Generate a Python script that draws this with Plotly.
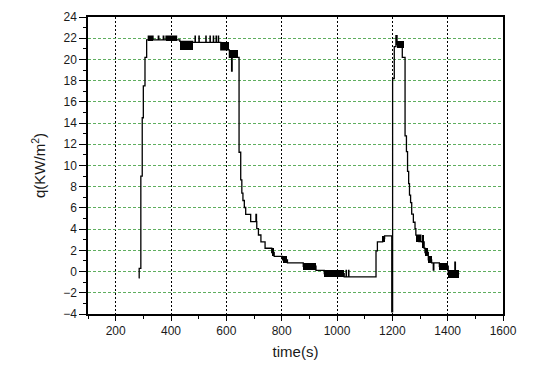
import plotly.graph_objects as go

# Heat flux trace (step line), time in s, q in KW/m^2
time_s = [283, 285, 291, 296, 300, 306, 312, 318, 335, 354, 356, 372, 374, 382, 420, 432,
          478, 487, 488, 501, 502, 526, 527, 541, 542, 553, 554, 563, 564, 571, 572,
          580, 611, 619, 621,
          646, 652, 656, 660, 665, 670, 688, 707, 709, 710, 716, 725, 740, 764, 773,
          803, 821, 878, 924, 954, 1026, 1033, 1034, 1042, 1043, 1141, 1146, 1165, 1172,
          1198, 1201, 1207, 1213, 1217, 1236, 1246, 1251, 1255, 1259, 1262, 1266, 1270,
          1276, 1282, 1285, 1296, 1300, 1303, 1306, 1315, 1318, 1330, 1342, 1348, 1350,
          1370, 1402, 1426, 1428, 1442]
q_vals = [-0.6, 0.3, 9.0, 14.5, 17.5, 20.2, 21.85, 22.2, 21.85, 22.2, 21.85, 22.2, 21.85, 22.2, 21.85, 21.7,
          21.6, 22.2, 21.6, 22.2, 21.6, 22.2, 21.6, 22.2, 21.6, 22.2, 21.6, 22.2, 21.6, 22.2, 21.6,
          20.9, 20.2, 18.9, 20.2,
          11.25, 8.65, 7.4, 6.7, 6.04, 5.4, 4.7, 5.4, 4.7, 4.04, 3.45, 2.8, 2.2, 1.8, 1.44,
          1.1, 0.82, 0.5, 0.12, -0.2, -0.5, 0.12, -0.5, 0.12, -0.5, 1.96, 2.8, 3.1, 3.37,
          -3.8, 18.2, 21.2, 22.25, 21.4, 20.2, 12.8, 11.3, 9.45, 8.3, 7.2, 6.5, 5.42,
          4.65, 4.04, 3.43, 2.82, 3.43, 2.82, 2.8, 2.2, 1.8, 1.1, 0.82, 0.15, 0.82,
          0.5, -0.2, 0.9, -0.2, -0.2]

# Fast toggling between two levels (appears as solid black blocks)
block_start = [318, 382, 432, 580, 611, 764, 803, 878, 954, 1165, 1217, 1285, 1306, 1318, 1330, 1370, 1402]
block_end   = [335, 420, 478, 611, 643, 773, 821, 924, 1026, 1172, 1242, 1296, 1315, 1330, 1342, 1402, 1442]
block_hi    = [22.2, 22.2, 21.7, 21.6, 20.9, 2.2, 1.44, 0.82, 0.12, 3.37, 21.7, 3.43, 3.43, 2.2, 1.44, 0.82, 0.15]
block_lo    = [21.7, 21.7, 20.9, 20.9, 20.2, 1.44, 0.82, 0.12, -0.5, 2.8, 21.1, 2.82, 2.2, 1.44, 0.82, 0.15, -0.56]

x_ticks = [200, 400, 600, 800, 1000, 1200, 1400, 1600]
y_ticks = [-4, -2, 0, 2, 4, 6, 8, 10, 12, 14, 16, 18, 20, 22, 24]

mids = [(a + b) / 2 for a, b in zip(block_start, block_end)]
widths = [b - a for a, b in zip(block_start, block_end)]
heights = [h - l for h, l in zip(block_hi, block_lo)]

fig = go.Figure()
fig.add_trace(go.Bar(x=mids, y=heights, base=block_lo, width=widths,
                     marker=dict(color="black", line=dict(width=0)), showlegend=False,
                     hoverinfo="skip"))
fig.add_trace(go.Scatter(x=time_s, y=q_vals, mode="lines", line=dict(color="black", width=1.3, shape="hv"),
                         showlegend=False))

font_family = "Liberation Sans, Arial, sans-serif"
fig.update_layout(
    width=533, height=370,
    margin=dict(l=88, r=30, t=10, b=56),
    paper_bgcolor="white", plot_bgcolor="white",
    barmode="overlay", bargap=0,
    font=dict(family=font_family, size=12, color="#1a1a1a"),
)
fig.update_xaxes(
    range=[100, 1600], tickvals=x_ticks, ticks="outside", ticklen=5, tickwidth=1, tickcolor="black",
    showline=True, linecolor="black", linewidth=1.5, mirror=True,
    showgrid=True, gridcolor="black", gridwidth=1, griddash="2px,2px",
    zeroline=False,
    minor=dict(ticks="outside", ticklen=3, dtick=100, tick0=0, tickcolor="black", showgrid=False),
    title=dict(text="time(s)", font=dict(size=15, family=font_family), standoff=9),
    tickfont=dict(size=12, family=font_family),
)
fig.update_yaxes(
    range=[-4, 24], tickvals=y_ticks, ticks="outside", ticklen=7, tickwidth=1, tickcolor="black",
    showline=True, linecolor="black", linewidth=1.5, mirror=True,
    showgrid=True, gridcolor="#5fae5f", gridwidth=1, griddash="3px,2px",
    zeroline=False,
    minor=dict(ticks="outside", ticklen=3, dtick=1, tick0=0, tickcolor="black", showgrid=False),
    title=dict(text="q(KW/m<sup>2</sup>)", font=dict(size=15, family=font_family), standoff=14),
    tickfont=dict(size=12, family=font_family),
)

fig.write_html("out.html", config={"displayModeBar": False},
               post_script="document.body.style.margin='0px';")
